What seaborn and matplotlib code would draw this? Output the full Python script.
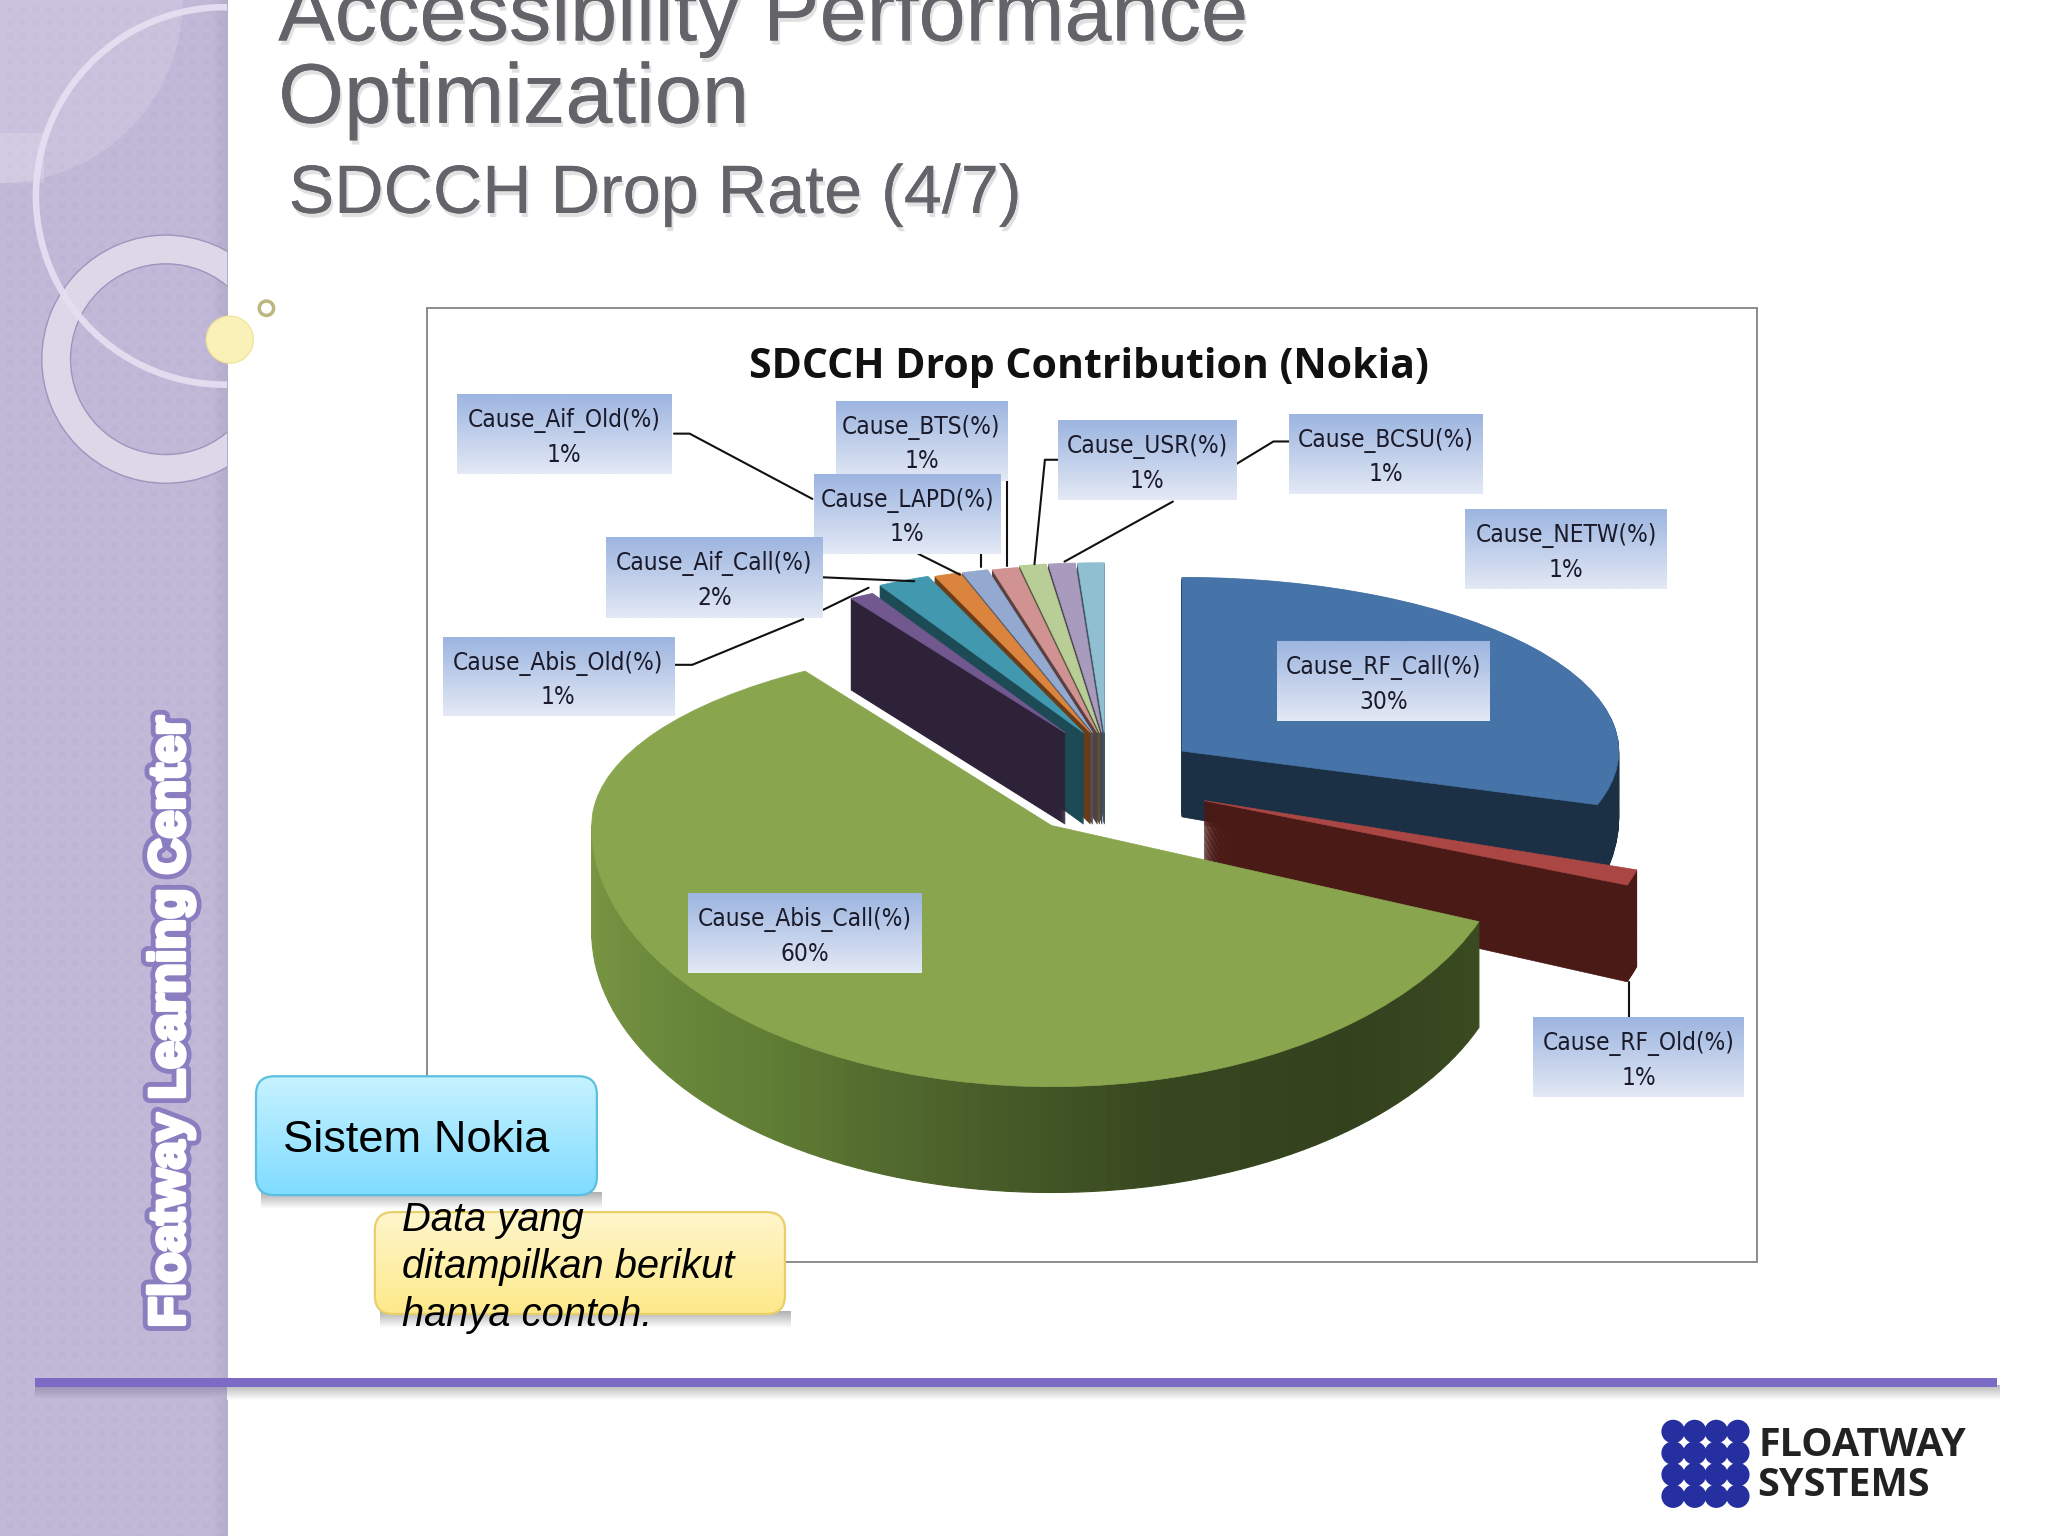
import numpy as np
import matplotlib
matplotlib.use("Agg")
import matplotlib.pyplot as plt
import matplotlib.patheffects as pe
from matplotlib.patches import Circle, Wedge, Rectangle, FancyBboxPatch
from matplotlib.colors import LinearSegmentedColormap
import seaborn as sns

# ---------- data ----------
categories = ["Cause_RF_Call(%)", "Cause_RF_Old(%)", "Cause_Abis_Call(%)", "Cause_Abis_Old(%)",
              "Cause_Aif_Call(%)", "Cause_Aif_Old(%)", "Cause_LAPD(%)", "Cause_BTS(%)",
              "Cause_USR(%)", "Cause_BCSU(%)", "Cause_NETW(%)"]
shares = [30, 1, 60, 1, 2, 1, 1, 1, 1, 1, 1]
top_colors = ["#4674A8", "#AA4643", "#89A54E", "#71588F", "#4198AF", "#DB843D",
              "#93A9CF", "#D19392", "#B9CD96", "#A99BBD", "#8FBFD0"]
wall_colors = ["#1B3044", "#4A1A16", "#6B8A3C", "#2E2238", "#1C4A55", "#6A3C18",
               "#4A5568", "#5A4040", "#4F5A3A", "#4A4455", "#3F5560"]

# ---------- layout (all in a 1568 x 1176 canvas) ----------
W, H = 1568, 1176
APEX_X, APEX_Y = 805, 632
RX, RY_UP, RY_DOWN = 352, 140, 200
offsets = [(.284, .407), (.332, .136), (0, 0), (.03, .507), (.07, .507), (.085, .507),
           (.09, .507), (.10, .507), (.105, .507), (.11, .507), (.115, .507)]
radii = [.95, .99, 1, .87, .92, .92, .92, .92, .93, .93, .93]
depths = [.36, .37, .405, .5, .5, .5, .5, .5, .5, .5, .5]
orders = [1, 2, 3, 1.3, 1.3, 1.3, 1.3, 1.3, 1.3, 1.3, 1.3]
boxes = [(978, 491, 1141, 552), (1174, 779, 1335, 840), (527, 684, 706, 745), (339, 488, 516, 548),
         (464, 411, 630, 473), (350, 302, 514, 363), (623, 363, 766, 424), (640, 307, 771, 368),
         (810, 322, 947, 383), (987, 317, 1135, 378), (1122, 390, 1276, 451)]
box_draw_order = [5, 7, 6, 4, 3, 8, 9, 10, 0, 2, 1]
leaders = [[(516, 332), (528, 332), (622, 382)], [(771, 368), (771, 433)], [(703, 424), (735, 440)],
           [(751, 424), (751, 434)], [(630, 442), (700, 445)],
           [(516, 509), (530, 509), (615, 474)], [(630, 467), (665, 450)],
           [(810, 352), (800, 352), (792, 432)], [(987, 338), (975, 338), (947, 355)],
           [(898, 384), (815, 430)], [(1247, 752), (1247, 779)]]

sns.set_theme(style="white", font="Liberation Sans")
fig = plt.figure(figsize=(20.48, 15.36), dpi=100, facecolor="white")


def canvas(z):
    ax = fig.add_axes([0, 0, 1, 1], zorder=z)
    ax.set_xlim(0, W)
    ax.set_ylim(H, 0)
    ax.axis("off")
    ax.patch.set_alpha(0)
    return ax


def gradient(ax, box, top, bottom, clip=None, z=2):
    x0, y0, x1, y1 = box
    cmap = LinearSegmentedColormap.from_list("g", [top, bottom])
    im = ax.imshow(np.linspace(0, 1, 64)[:, None], extent=(x0, x1, y1, y0), cmap=cmap,
                   aspect="auto", zorder=z, interpolation="bilinear")
    if clip is not None:
        im.set_clip_path(clip)
    ax.set_xlim(0, W)
    ax.set_ylim(H, 0)


# ---------- background ----------
bg = canvas(0)
yy, xx = np.mgrid[0:H, 0:174]
pattern = ((xx // 5 + yy // 5) % 2) * 0.018 + (((xx % 10) < 5) & ((yy % 10) < 5)) * 0.012
edge_fade = np.clip((xx - 160) / 14, 0, 1) * 0.05
rgb = np.array([0.745, 0.71, 0.835])[None, None, :] + (pattern - edge_fade)[..., None]
bg.imshow(np.clip(rgb, 0, 1), extent=(0, 174, H, 0), aspect="auto", zorder=1, interpolation="bilinear")
bg.set_xlim(0, W)
bg.set_ylim(H, 0)
strip_clip = Rectangle((0, 0), 174, H, transform=bg.transData)
bg.add_patch(Wedge((0, 0), 140, 0, 90, fc="white", alpha=.15, lw=0, zorder=2))
bg.add_patch(Rectangle((0, 102), 34, 38, fc="white", alpha=.15, lw=0, zorder=2))
ring = Wedge((127, 275), 95, 0, 360, width=22, fc="#DDD8E8", ec="#9F94BD", lw=1, zorder=3)
bg.add_patch(ring)
ring.set_clip_path(strip_clip)
thin = Wedge((172, 150), 147, 0, 360, width=5, fc="#E4DFF1", lw=0, alpha=.95, zorder=4)
bg.add_patch(thin)
thin.set_clip_path(strip_clip)
bg.add_patch(Circle((176, 260), 18, fc="#FAF1B8", ec="#F2E59A", lw=1, zorder=5))
bg.add_patch(Circle((204, 236), 5.5, fc="white", ec="#BDB67E", lw=2.5, zorder=5))
bg.add_patch(Rectangle((327, 236), 1018, 730, fc="white", ec="#8C8C8C", lw=1.4, zorder=3))
gradient(bg, (174, 1061, 1531, 1072), "#B8B8B8", "#FFFFFF", z=4)
gradient(bg, (27, 1061, 174, 1070), "#9C93B5", "#BDB4D3", z=4)
bg.add_patch(Rectangle((27, 1055), 1502, 7, fc="#7B6BC4", lw=0, zorder=5))

shadow = [pe.withSimplePatchShadow(offset=(1.5, -3), shadow_rgbFace="#777777", alpha=.22), pe.Normal()]
for txt, x, y, size in [("Accessibility Performance", 213, 31, 61), ("Optimization", 213, 94, 61),
                        ("SDCCH Drop Rate (4/7)", 221, 163, 49.2)]:
    bg.text(x, y, txt, fontsize=size, color="#636369", family="Liberation Sans", va="baseline",
            ha="left", zorder=6, path_effects=shadow)
bg.text(131, 782, "Floatway Learning Center", rotation=90, fontsize=36, fontweight="bold", color="white",
        family="Liberation Sans", ha="center", va="center", zorder=6,
        path_effects=[pe.withStroke(linewidth=10, foreground="#8A7EC0"),
                      pe.withStroke(linewidth=3, foreground="white")])
bg.text(834, 281, "SDCCH Drop Contribution (Nokia)", fontsize=29.5, fontweight="bold", color="#111111",
        family="Open Sans", ha="center", va="center", zorder=6)

# ---------- logo ----------
for r in range(4):
    for c in range(4):
        bg.add_patch(Circle((1281 + c * 16.5, 1096 + r * 16.5), 9, fc="#262FA0", lw=0, zorder=6))
bg.text(1346, 1107, "FLOATWAY", fontsize=28.5, fontweight="bold", color="#222222", family="Open Sans",
        va="center", ha="left", zorder=6)
bg.text(1345, 1137, "SYSTEMS", fontsize=28.5, fontweight="bold", color="#222222", family="Open Sans",
        va="center", ha="left", zorder=6)

# ---------- pie ----------
ax = fig.add_axes([0, 0, 1, 1], zorder=1)
ax.patch.set_alpha(0)
palette = sns.color_palette(top_colors)
walls = sns.color_palette(wall_colors)
LAYERS = 110


def draw_pie(colors, lift, visible):
    wedges, _ = ax.pie(shares, colors=colors, startangle=90, counterclock=False, radius=1,
                       wedgeprops=dict(linewidth=.5))
    for i, w in enumerate(wedges):
        cx, cy = offsets[i]
        w.set_center((cx, cy - depths[i] * lift))
        w.set_radius(radii[i])
        w.set_edgecolor(colors[i])
        w.set_zorder(orders[i] + (1 - lift) * .05)
        w.set_visible(i in visible)
    return wedges


for k in range(LAYERS, 0, -1):
    draw_pie(walls, k / LAYERS, [i for i in range(len(shares)) if i != 2])
tops = draw_pie(palette, 0, range(len(shares)))

# green rim, shaded along the arc of its own slice
green = tops[2]
rim = sns.blend_palette(["#7A9844", "#6E8C3D", "#5F7D34", "#4A5F2A", "#36461F", "#33421D", "#3B4B20"], 90)
angles = np.linspace(-180, green.theta2, len(rim) + 1)
for j, c in enumerate(rim):
    a = np.radians(angles[j:j + 2])
    xs, ys = np.cos(a), np.sin(a)
    ax.fill([xs[0], xs[1], xs[1], xs[0]],
            [ys[0], ys[1], ys[1] - depths[2], ys[0] - depths[2]],
            color=c, lw=.8, zorder=orders[2] - .01)


def f_up(y):
    y = np.asarray(y, dtype=float)
    return np.where(y > 0, y * RY_UP, y * RY_DOWN)


def f_inv(v):
    v = np.asarray(v, dtype=float)
    return np.where(v > 0, v / RY_UP, v / RY_DOWN)


ax.set_aspect("auto")
ax.set_yscale("function", functions=(f_up, f_inv))
ax.set_xlim((0 - APEX_X) / RX, (W - APEX_X) / RX)
ax.set_ylim(-(H - APEX_Y) / RY_DOWN, APEX_Y / RY_UP)
ax.axis("off")
sns.despine(ax=ax, left=True, bottom=True)

# ---------- labels, leaders, callouts ----------
top = canvas(2)
for pts in leaders:
    top.plot(*zip(*pts), color="#111111", lw=1.5, zorder=1)
for n, i in enumerate(box_draw_order):
    b = boxes[i]
    gradient(top, b, "#9DB5E0", "#E3E9F5", z=2 + n * .1)
    top.text((b[0] + b[2]) / 2, (b[1] + b[3]) / 2 + 2.5, f"{categories[i]}\n{shares[i]}%", fontsize=17.5,
             family="DejaVu Sans", stretch="condensed", color="#1A1A2A", ha="center", va="center",
             linespacing=1.5, zorder=2.05 + n * .1)

gradient(top, (200, 913, 461, 926), "#B0B0B0", "#FFFFFF", z=4)
gradient(top, (291, 1004, 605, 1017), "#B0B0B0", "#FFFFFF", z=4)
blue = FancyBboxPatch((196, 824), 261, 91, boxstyle="round,pad=0,rounding_size=14", fc="none",
                      ec="#5CBFE0", lw=1.6, zorder=6)
yellow = FancyBboxPatch((287, 928), 314, 78, boxstyle="round,pad=0,rounding_size=14", fc="none",
                        ec="#E8CF6A", lw=1.6, zorder=6)
top.add_patch(blue)
top.add_patch(yellow)
gradient(top, (196, 824, 457, 915), "#C6F2FF", "#80DCFF", clip=blue, z=5)
gradient(top, (287, 928, 601, 1006), "#FFF6CC", "#FDE98A", clip=yellow, z=5)
top.text(217, 873, "Sistem Nokia", fontsize=32.6, color="black", family="Liberation Sans",
         va="center", ha="left", zorder=7)
for txt, y in [("Data yang", 934), ("ditampilkan berikut", 970), ("hanya contoh.", 1007)]:
    top.text(308, y, txt, fontsize=28.7, style="italic", color="black", family="Liberation Sans",
             va="center", ha="left", zorder=7)

fig.savefig("out.png", dpi=100)
